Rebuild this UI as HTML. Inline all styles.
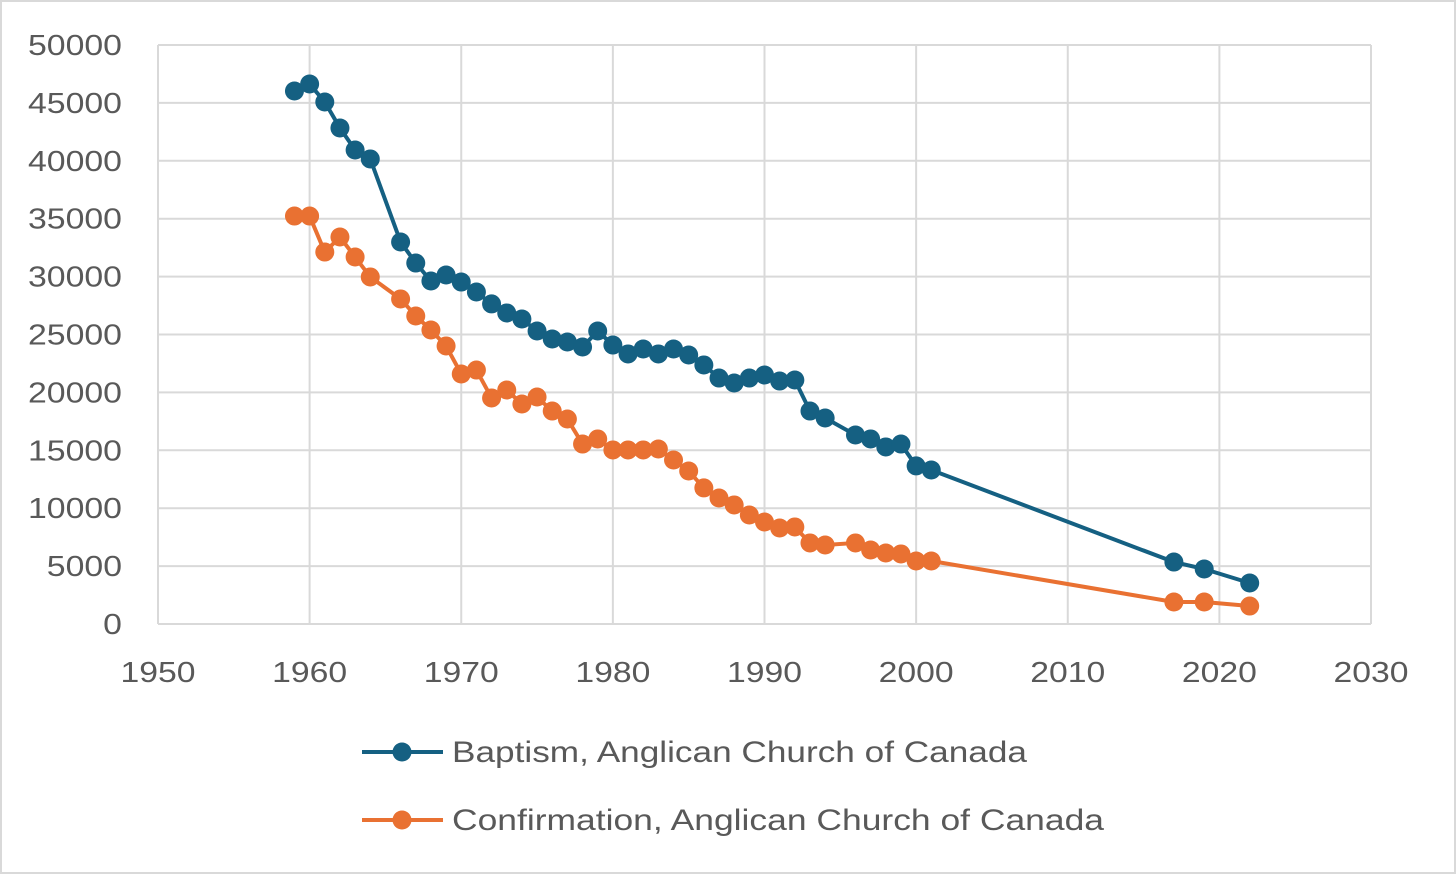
<!DOCTYPE html>
<html><head><meta charset="utf-8"><style>
html,body{margin:0;padding:0;background:#fff;}
svg{display:block;font-family:"Liberation Sans",sans-serif;}
</style></head><body>
<svg id="chart" width="1456" height="874">
<rect x="1" y="1" width="1454" height="872" fill="#fff" stroke="#d9d9d9" stroke-width="2"/>
<g id="grid"></g><g id="axes"></g><g id="series"></g>
<g>
<g>
<line x1="362" y1="752" x2="443" y2="752" stroke="#156082" stroke-width="4"/>
<circle cx="402" cy="752" r="9.5" fill="#156082"/>
<text x="452" y="762" font-size="30" fill="#595959" textLength="575" lengthAdjust="spacingAndGlyphs">Baptism, Anglican Church of Canada</text></g>
<g>
<line x1="362" y1="820" x2="443" y2="820" stroke="#E97132" stroke-width="4"/>
<circle cx="402" cy="820" r="9.5" fill="#E97132"/>
<text x="452" y="830" font-size="30" fill="#595959" textLength="652" lengthAdjust="spacingAndGlyphs">Confirmation, Anglican Church of Canada</text></g>
</g>
</svg>
<script>
const years=[1959,1960,1961,1962,1963,1964,1966,1967,1968,1969,1970,1971,1972,1973,1974,1975,1976,1977,1978,1979,1980,1981,1982,1983,1984,1985,1986,1987,1988,1989,1990,1991,1992,1993,1994,1996,1997,1998,1999,2000,2001,2017,2019,2022];
const baptism=[46030,46630,45080,42830,40930,40160,32990,31170,29620,30140,29530,28670,27640,26860,26340,25300,24610,24350,23920,25300,24090,23320,23750,23320,23750,23230,22370,21240,20810,21240,21500,20980,21070,18390,17790,16320,15980,15290,15540,13650,13300,5350,4750,3540];
const confirmation=[35230,35230,32120,33420,31690,29970,28070,26600,25390,24010,21590,21930,19520,20210,19000,19600,18390,17700,15540,15980,15030,15030,15030,15110,14160,13210,11750,10880,10280,9410,8810,8290,8380,7000,6820,7000,6390,6130,6050,5440,5440,1900,1900,1550];
const xTicks=[1950,1960,1970,1980,1990,2000,2010,2020,2030];
const yTicks=[0,5000,10000,15000,20000,25000,30000,35000,40000,45000,50000];
const NS="http://www.w3.org/2000/svg";
const X0=158,X1=1371,Y0=624,Y1=45;
const xs=v=>X0+(v-1950)/80*(X1-X0);
const ys=v=>Y0-v/50000*(Y0-Y1);
function mk(tag,attrs,parent){const e=document.createElementNS(NS,tag);for(const k in attrs)e.setAttribute(k,attrs[k]);parent.appendChild(e);return e;}
const grid=document.getElementById('grid'),axes=document.getElementById('axes'),ser=document.getElementById('series');
yTicks.forEach(t=>{
 const l=mk('line',{x1:X0,x2:X1,y1:ys(t),y2:ys(t),stroke:'#d9d9d9','stroke-width':2},grid);
 
 
 const s=String(t);
 const tx=mk('text',{x:122,y:ys(t)+10,'text-anchor':'end','font-size':29,fill:'#595959',textLength:s.length*18.8,lengthAdjust:'spacingAndGlyphs'},axes);
 tx.textContent=s;
 
 
});
xTicks.forEach(t=>{
 const l=mk('line',{x1:xs(t),x2:xs(t),y1:Y1,y2:Y0,stroke:'#d9d9d9','stroke-width':2},grid);
 
 
 const tx=mk('text',{x:xs(t),y:682,'text-anchor':'middle','font-size':29,fill:'#595959',textLength:75,lengthAdjust:'spacingAndGlyphs'},axes);
 tx.textContent=t;
 
 
});
function draw(vals,color,name){
 const g=mk('g',{},ser);
 
 
 const p=mk('polyline',{points:years.map((y,i)=>xs(y)+','+ys(vals[i])).join(' '),fill:'none',stroke:color,'stroke-width':4,'stroke-linejoin':'round'},g);
 
 
 years.forEach((y,i)=>{
  const c=mk('circle',{cx:xs(y),cy:ys(vals[i]),r:9.5,fill:color},g);
  
  
 });
}
draw(confirmation,'#E97132','confirmation');
draw(baptism,'#156082','baptism');
</script>
</body></html>
